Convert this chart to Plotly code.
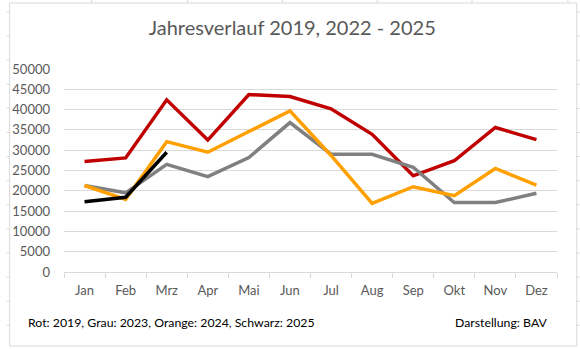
import plotly.graph_objects as go

months = ["Jan", "Feb", "Mrz", "Apr", "Mai", "Jun", "Jul", "Aug", "Sep", "Okt", "Nov", "Dez"]
y2019 = [27200, 28100, 42400, 32500, 43700, 43200, 40200, 33900, 23700, 27400, 35600, 32600]
y2023 = [21300, 19500, 26500, 23500, 28200, 36800, 29000, 29000, 25800, 17100, 17100, 19400]
y2024 = [21300, 17900, 32100, 29500, 34600, 39700, 28700, 16900, 21000, 18800, 25500, 21400]
y2025 = [17300, 18400, 29500]

title_text = "Jahresverlauf 2019, 2022 - 2025"
note_left = "Rot: 2019, Grau: 2023, Orange: 2024, Schwarz: 2025"
note_right = "Darstellung: BAV"

W, H = 580, 349
ML, MR, MT, MB = 58, 23, 69, 77
PW, PH = W - ML - MR, H - MT - MB

def px(x):
    return (x - ML) / PW

def py(y):
    return (H - MB - y) / PH

FONT = "Lato, Calibri, sans-serif"
GRID = "#d9d9d9"

fig = go.Figure()
series = [
    ("2019", y2019, "#C00000"),
    ("2023", y2023, "#808080"),
    ("2024", y2024, "#FFA000"),
    ("2025", y2025, "#000000"),
]
for name, vals, col in series:
    fig.add_trace(go.Scatter(
        x=months[:len(vals)], y=vals, mode="lines", name=name,
        line=dict(color=col, width=3.5, shape="linear"),
        hoverinfo="x+y+name",
    ))

shapes = []
# chart border
shapes.append(dict(type="rect", xref="paper", yref="paper",
                   x0=px(3), x1=px(577), y0=py(346), y1=py(3),
                   line=dict(color=GRID, width=1), fillcolor="rgba(0,0,0,0)", layer="below"))
# sheet gridlines outside the chart
for gx in [86, 183, 279, 375, 471, 568]:
    shapes.append(dict(type="line", xref="paper", yref="paper",
                       x0=px(gx), x1=px(gx), y0=py(0), y1=py(3),
                       line=dict(color=GRID, width=1)))
k = 0
while 12 + 24.1 * k < 349:
    gy = 12 + 24.1 * k
    for a, b in [(0, 3), (577, 580)]:
        shapes.append(dict(type="line", xref="paper", yref="paper",
                           x0=px(a), x1=px(b), y0=py(gy), y1=py(gy),
                           line=dict(color=GRID, width=1)))
    k += 1

fig.update_layout(
    width=W, height=H,
    margin=dict(l=ML, r=MR, t=MT, b=MB, pad=0),
    paper_bgcolor="white", plot_bgcolor="white",
    showlegend=False,
    font=dict(family=FONT, color="#595959", size=12),
    title=dict(text=title_text, x=px(289), xref="paper", xanchor="center",
               y=1 - 28 / H, yref="container", yanchor="middle",
               font=dict(family=FONT, size=20, color="#595959")),
    xaxis=dict(
        type="category", range=[-0.5, 11.5],
        showline=True, linecolor=GRID, linewidth=1,
        ticks="outside", tickson="boundaries", ticklen=5, tickcolor=GRID,
        showgrid=False, tickfont=dict(size=13, color="#595959", family=FONT),
        ticklabelstandoff=6,
    ),
    yaxis=dict(
        range=[0, 50000], dtick=5000, showgrid=True, gridcolor=GRID, gridwidth=1,
        zeroline=False, showline=False, ticks="",
        tickformat="d", tickfont=dict(size=13, color="#595959", family=FONT),
        ticklabelstandoff=13,
    ),
    shapes=shapes,
    annotations=[
        dict(text=note_left, xref="paper", yref="paper", x=px(20), y=py(322),
             xanchor="left", yanchor="middle", showarrow=False,
             font=dict(family=FONT, size=12.3, color="#000000")),
        dict(text=note_right, xref="paper", yref="paper", x=px(550), y=py(322),
             xanchor="right", yanchor="middle", showarrow=False,
             font=dict(family=FONT, size=12.3, color="#000000")),
    ],
)

fig.write_html("out.html")
